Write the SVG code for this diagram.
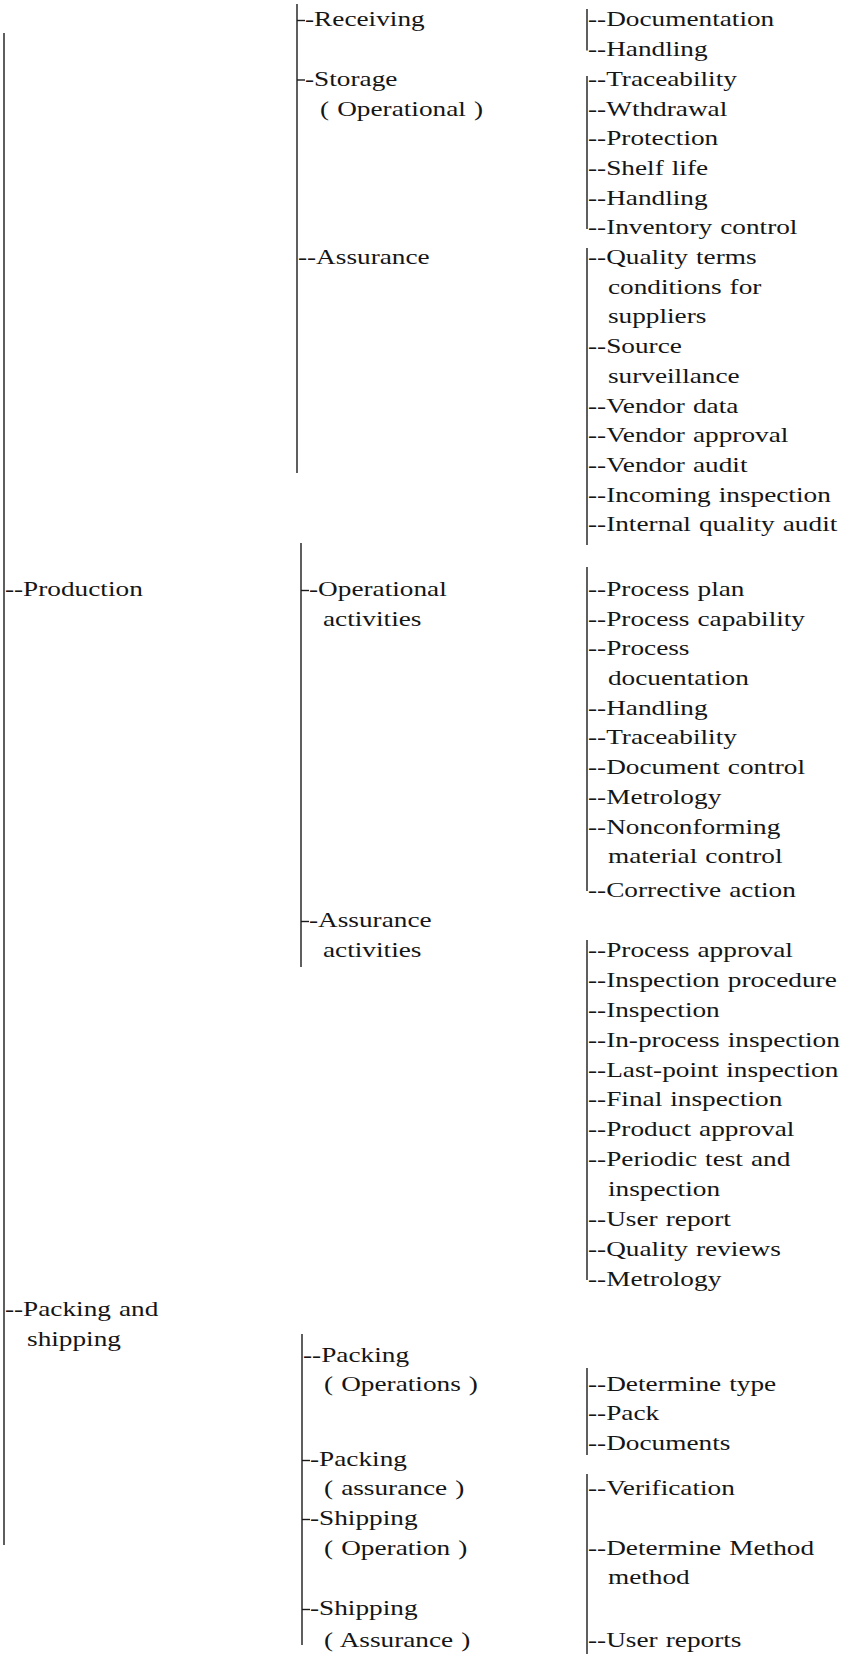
<svg xmlns="http://www.w3.org/2000/svg" width="850" height="1654" viewBox="0 0 850 1654">
<style>
  .n text { font-family: "Liberation Serif", "Times New Roman", serif; font-size: 22px; word-spacing: 1px; fill: #151515; }
  .c line { stroke: #1a1a1a; stroke-width: 1.4; fill: none; }
</style>
<rect width="850" height="1654" fill="#ffffff"/>

<!-- tree lines: level 1 at x=4, level 2 near x=300, level 3 at x=587 -->
<g id="connectors" class="c">
  <line x1="4" y1="33" x2="4" y2="1545"/>

  <line x1="297" y1="4" x2="297" y2="473"/>
  <line x1="297" y1="20.5" x2="305" y2="20.5"/>
  <line x1="297" y1="80" x2="305" y2="80"/>

  <line x1="301" y1="543" x2="301" y2="967"/>
  <line x1="301" y1="590.5" x2="309" y2="590.5"/>
  <line x1="301" y1="921.5" x2="309" y2="921.5"/>

  <line x1="302" y1="1334" x2="302" y2="1645"/>
  <line x1="302" y1="1460.5" x2="310" y2="1460.5"/>
  <line x1="302" y1="1519.5" x2="310" y2="1519.5"/>
  <line x1="302" y1="1609.5" x2="310" y2="1609.5"/>

  <line x1="587" y1="9" x2="587" y2="50.5"/>
  <line x1="587" y1="76" x2="587" y2="229"/>
  <line x1="587" y1="248" x2="587" y2="545"/>
  <line x1="587" y1="567" x2="587" y2="891"/>
  <line x1="587" y1="940" x2="587" y2="1280"/>
  <line x1="587" y1="1368" x2="587" y2="1455"/>
  <line x1="587" y1="1474" x2="587" y2="1654"/>
</g>

<!-- level 1 -->
<g id="production" class="n" transform="scale(1.24 1)">
  <text x="4" y="596">--Production</text>
</g>
<g id="packing-shipping" class="n" transform="scale(1.24 1)">
  <text x="4" y="1316">--Packing and<tspan x="21.8" y="1346">shipping</tspan></text>
</g>

<!-- level 2 -->
<g id="receiving" class="n" transform="scale(1.24 1)">
  <text x="246" y="26.5">-Receiving</text>
</g>
<g id="storage" class="n" transform="scale(1.24 1)">
  <text x="246" y="85.9">-Storage<tspan x="258.1" y="115.6">( Operational )</tspan></text>
</g>
<g id="assurance" class="n" transform="scale(1.24 1)">
  <text x="240.3" y="264.1">--Assurance</text>
</g>
<g id="operational-activities" class="n" transform="scale(1.24 1)">
  <text x="249.2" y="596">-Operational<tspan x="260.5" y="625.7">activities</tspan></text>
</g>
<g id="assurance-activities" class="n" transform="scale(1.24 1)">
  <text x="249.2" y="927">-Assurance<tspan x="260.5" y="957">activities</tspan></text>
</g>
<g id="packing-operations" class="n" transform="scale(1.24 1)">
  <text x="244.4" y="1362">--Packing<tspan x="261.3" y="1391">( Operations )</tspan></text>
</g>
<g id="packing-assurance" class="n" transform="scale(1.24 1)">
  <text x="250" y="1466">-Packing<tspan x="261.3" y="1495.5">( assurance )</tspan></text>
</g>
<g id="shipping-operation" class="n" transform="scale(1.24 1)">
  <text x="250" y="1525">-Shipping<tspan x="261.3" y="1555">( Operation )</tspan></text>
</g>
<g id="shipping-assurance" class="n" transform="scale(1.24 1)">
  <text x="250" y="1615">-Shipping<tspan x="261.3" y="1647">( Assurance )</tspan></text>
</g>

<!-- level 3: receiving -->
<g id="receiving-items" class="n" transform="scale(1.24 1)">
  <text x="474.2" y="26.5">--Documentation</text>
  <text x="474.2" y="56.2">--Handling</text>
</g>
<!-- level 3: storage -->
<g id="storage-items" class="n" transform="scale(1.24 1)">
  <text x="474.2" y="85.9">--Traceability</text>
  <text x="474.2" y="115.6">--Wthdrawal</text>
  <text x="474.2" y="145.3">--Protection</text>
  <text x="474.2" y="175">--Shelf life</text>
  <text x="474.2" y="204.7">--Handling</text>
  <text x="474.2" y="234.4">--Inventory control</text>
</g>
<!-- level 3: supplier assurance -->
<g id="assurance-items" class="n" transform="scale(1.24 1)">
  <text x="474.2" y="264.1">--Quality terms<tspan x="490.3" y="293.8">conditions for</tspan><tspan x="490.3" y="323.5">suppliers</tspan></text>
  <text x="474.2" y="353.2">--Source<tspan x="490.3" y="382.9">surveillance</tspan></text>
  <text x="474.2" y="412.6">--Vendor data</text>
  <text x="474.2" y="442.3">--Vendor approval</text>
  <text x="474.2" y="472">--Vendor audit</text>
  <text x="474.2" y="501.7">--Incoming inspection</text>
  <text x="474.2" y="531.4">--Internal quality audit</text>
</g>
<!-- level 3: production operations -->
<g id="operational-items" class="n" transform="scale(1.24 1)">
  <text x="474.2" y="596">--Process plan</text>
  <text x="474.2" y="625.7">--Process capability</text>
  <text x="474.2" y="655.4">--Process<tspan x="490.3" y="685.1">docuentation</tspan></text>
  <text x="474.2" y="714.8">--Handling</text>
  <text x="474.2" y="744.5">--Traceability</text>
  <text x="474.2" y="774.2">--Document control</text>
  <text x="474.2" y="803.9">--Metrology</text>
  <text x="474.2" y="833.6">--Nonconforming<tspan x="490.3" y="863.3">material control</tspan></text>
  <text x="474.2" y="897">--Corrective action</text>
</g>
<!-- level 3: production assurance -->
<g id="assurance-activity-items" class="n" transform="scale(1.24 1)">
  <text x="474.2" y="957">--Process approval</text>
  <text x="474.2" y="986.9">--Inspection procedure</text>
  <text x="474.2" y="1016.8">--Inspection</text>
  <text x="474.2" y="1046.7">--In-process inspection</text>
  <text x="474.2" y="1076.6">--Last-point inspection</text>
  <text x="474.2" y="1106.5">--Final inspection</text>
  <text x="474.2" y="1136.4">--Product approval</text>
  <text x="474.2" y="1166.3">--Periodic test and<tspan x="490.3" y="1196.2">inspection</tspan></text>
  <text x="474.2" y="1226.1">--User report</text>
  <text x="474.2" y="1256">--Quality reviews</text>
  <text x="474.2" y="1285.9">--Metrology</text>
</g>
<!-- level 3: packing and shipping -->
<g id="packing-items" class="n" transform="scale(1.24 1)">
  <text x="474.2" y="1391">--Determine type</text>
  <text x="474.2" y="1420.5">--Pack</text>
  <text x="474.2" y="1450">--Documents</text>
</g>
<g id="packing-assurance-items" class="n" transform="scale(1.24 1)">
  <text x="474.2" y="1495.5">--Verification</text>
</g>
<g id="shipping-operation-items" class="n" transform="scale(1.24 1)">
  <text x="474.2" y="1555">--Determine Method<tspan x="490.3" y="1584.5">method</tspan></text>
</g>
<g id="shipping-assurance-items" class="n" transform="scale(1.24 1)">
  <text x="474.2" y="1647">--User reports</text>
</g>
</svg>
